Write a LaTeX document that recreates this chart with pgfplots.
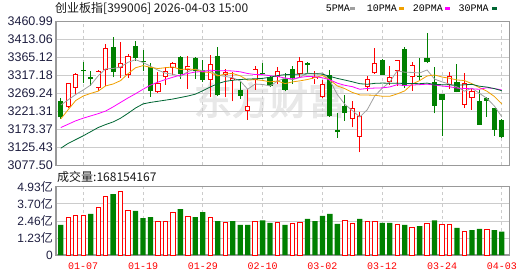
\documentclass[border=0pt]{standalone}
\usepackage{fontspec}
\setmainfont{Liberation Sans}
\newfontfamily\cjk{Noto Sans CJK SC}
\newfontfamily\wm[FakeBold=3]{Noto Sans CJK SC}
\newfontfamily\monof{Liberation Mono}
\usepackage{pgfplots}
\usepackage{pgfplotstable}
\pgfplotsset{compat=1.18}

\definecolor{labc}{RGB}{30,30,64}
\definecolor{cred}{RGB}{255,0,0}
\definecolor{cgreen}{RGB}{0,128,0}
\definecolor{maf}{RGB}{160,160,160}
\definecolor{mat}{RGB}{240,160,0}
\definecolor{matw}{RGB}{255,0,255}
\definecolor{math}{RGB}{0,102,51}
\definecolor{gridc}{RGB}{204,204,204}
\definecolor{framec}{RGB}{153,153,153}

% up candles (close > open): red hollow
\pgfplotstableread{
i o h l c
1 3232.0 3297.0 3230.0 3295.9
2 3283.4 3324.3 3267.5 3320.7
5 3283.4 3331.4 3274.6 3327.8
6 3331.4 3400.6 3289.7 3389.1
8 3335.8 3406.8 3310.1 3349.1
9 3319.0 3374.0 3310.1 3367.8
13 3271.9 3325.2 3270.1 3295.9
14 3313.6 3340.3 3292.3 3327.8
15 3336.7 3353.4 3318.0 3349.1
17 3331.4 3369.6 3280.8 3342.9
20 3304.7 3372.2 3258.6 3347.4
22 3319.0 3334.0 3258.6 3326.1
23 3304.7 3325.2 3247.9 3310.1
25 3223.1 3280.8 3198.2 3236.4
26 3304.7 3342.9 3278.1 3334.0
29 3313.6 3338.5 3294.1 3327.8
32 3320.7 3366.9 3311.8 3354.5
34 3307.4 3327.8 3294.1 3313.6
35 3258.6 3304.7 3256.8 3294.1
39 3200.0 3247.9 3178.7 3229.3
40 3153.8 3218.6 3112.1 3209.8
41 3287.0 3316.3 3274.6 3306.5
42 3322.5 3390.0 3320.7 3349.1
44 3298.5 3342.0 3292.3 3311.8
45 3327.8 3358.0 3289.0 3358.0
47 3311.8 3351.8 3276.3 3345.6
52 3292.3 3325.2 3280.8 3316.3
54 3239.0 3322.5 3230.2 3295.9
55 3256.8 3283.4 3224.8 3274.6
}\upc

% down candles (close < open): green filled
\pgfplotstableread{
i o h l c
0 3247.9 3256.8 3201.8 3205.3
3 3331.4 3351.8 3298.0 3327.8
4 3311.8 3329.6 3289.7 3306.5
7 3391.8 3420.2 3311.8 3325.2
10 3396.2 3409.5 3356.2 3362.5
11 3356.0 3385.0 3328.0 3352.0
12 3338.5 3349.1 3260.4 3276.3
16 3366.9 3369.5 3307.4 3320.7
18 3362.5 3365.1 3307.4 3327.8
19 3331.4 3358.0 3300.3 3304.7
21 3369.6 3393.5 3261.0 3264.8
24 3278.1 3298.5 3254.1 3263.0
27 3324.3 3349.1 3319.0 3320.7
28 3311.8 3316.0 3287.0 3289.7
30 3307.4 3322.5 3274.6 3278.1
31 3334.0 3342.9 3294.1 3310.1
33 3349.1 3353.6 3322.5 3345.6
36 3319.0 3331.4 3207.1 3209.8
37 3171.6 3216.0 3150.3 3165.4
38 3236.4 3265.7 3196.4 3216.9
43 3358.0 3360.7 3318.0 3319.0
46 3387.3 3393.5 3283.4 3289.7
48 3316.0 3362.5 3304.7 3312.0
49 3363.3 3430.8 3349.1 3351.8
50 3300.3 3338.5 3216.0 3236.4
51 3267.5 3267.5 3156.5 3252.4
53 3298.5 3347.4 3271.9 3273.7
56 3247.9 3278.1 3185.8 3185.8
57 3256.8 3258.6 3207.1 3249.7
58 3229.3 3229.3 3156.5 3171.6
59 3198.2 3201.0 3150.3 3152.0
}\dnc

\pgfplotstableread{
i ma5 ma10 ma20 ma30
0 3238.0 3201.0 3178.0 3123.0
1 3252.0 3226.0 3187.0 3136.0
2 3266.0 3250.0 3196.0 3146.0
3 3278.0 3262.0 3203.0 3156.0
4 3291.2 3269.0 3209.0 3167.0
5 3315.7 3275.0 3215.0 3178.0
6 3334.4 3289.0 3222.0 3186.0
7 3335.3 3294.0 3233.0 3193.0
8 3339.5 3303.0 3245.0 3203.0
9 3351.8 3321.5 3257.0 3216.0
10 3358.7 3337.2 3268.0 3230.0
11 3351.3 3342.9 3280.0 3241.0
12 3341.5 3338.4 3291.0 3245.0
13 3330.9 3335.2 3299.0 3248.0
14 3322.9 3337.4 3306.0 3251.0
15 3320.2 3339.5 3312.0 3254.0
16 3314.0 3332.6 3318.0 3258.0
17 3327.3 3334.4 3322.0 3262.0
18 3333.7 3332.3 3326.0 3267.0
19 3329.0 3326.0 3327.0 3276.0
20 3328.7 3324.5 3330.9 3286.0
21 3317.5 3315.7 3329.3 3295.0
22 3314.2 3320.7 3329.6 3301.0
23 3310.6 3322.1 3328.7 3304.0
24 3302.3 3315.7 3326.5 3306.0
25 3280.1 3304.4 3321.9 3307.0
26 3293.9 3305.7 3319.2 3308.0
27 3292.8 3303.5 3319.0 3309.0
28 3288.8 3299.7 3316.0 3312.0
29 3301.7 3302.0 3314.0 3316.5
30 3310.1 3295.1 3309.8 3318.9
31 3305.3 3299.6 3307.7 3319.4
32 3312.0 3302.4 3311.6 3320.5
33 3323.2 3306.0 3314.1 3321.1
34 3320.4 3311.1 3313.4 3321.4
35 3323.6 3316.8 3310.6 3320.2
36 3303.5 3304.4 3305.1 3314.3
37 3265.7 3288.9 3296.2 3308.9
38 3240.0 3281.6 3290.6 3304.5
39 3223.1 3271.7 3286.9 3299.9
40 3206.2 3264.9 3280.0 3294.8
41 3225.6 3264.6 3282.1 3293.3
42 3262.3 3264.0 3283.2 3295.7
43 3282.7 3261.4 3283.7 3296.5
44 3299.2 3261.2 3286.1 3296.0
45 3328.9 3267.6 3292.2 3296.3
46 3325.5 3275.6 3290.0 3295.2
47 3324.8 3293.6 3291.2 3295.3
48 3323.4 3303.1 3292.3 3294.8
49 3331.4 3315.3 3293.5 3296.4
50 3307.1 3318.0 3291.5 3292.7
51 3299.6 3312.6 3288.6 3292.2
52 3293.8 3309.3 3286.7 3291.9
53 3286.1 3304.8 3283.1 3290.7
54 3274.9 3303.2 3282.2 3291.8
55 3282.6 3294.8 3281.2 3293.1
56 3269.3 3284.5 3280.0 3288.1
57 3255.9 3274.9 3284.2 3285.8
58 3235.5 3260.8 3281.9 3281.8
59 3206.7 3240.8 3278.1 3276.0
}\mas

\pgfplotstableread{
i v
1 2.72
2 2.87
3 2.82
5 3.44
6 4.26
8 4.60
9 3.22
13 2.43
14 2.43
15 3.08
17 2.79
20 2.72
22 2.36
26 2.43
29 2.38
31 2.31
32 2.38
38 2.50
39 2.31
41 2.43
42 2.43
45 2.17
47 2.00
49 2.29
51 2.17
52 2.17
54 1.71
57 1.88
}\volup

\pgfplotstableread{
i v
0 2.17
4 2.96
7 4.40
10 3.18
11 2.67
12 2.74
16 3.32
18 2.74
19 3.10
21 2.45
23 2.45
24 2.17
25 2.17
27 2.50
28 2.31
30 2.17
33 2.60
34 2.45
35 2.82
36 2.96
37 2.24
40 2.60
43 2.31
44 2.31
46 2.17
48 2.09
50 2.50
53 1.95
55 1.80
56 1.88
58 1.80
59 1.68
}\voldn

\pgfplotsset{
  kbase/.style={
    scale only axis, width=453.3pt,
    xmin=-0.64, xmax=60,
    xtick={3,11,19,27,35,43,51,59},
    xmajorgrids, ymajorgrids,
    x grid style={draw=gridc, line width=0.8pt, dash pattern=on 3pt off 3pt},
    y grid style={draw=gridc, line width=0.8pt},
    major tick length=0pt,
    scaled y ticks=false,
    axis line style={draw=framec, line width=1.2pt},
    yticklabel style={font=\fontsize{12.5}{12.5}\selectfont, text=labc, anchor=east, inner sep=0pt, xshift=-3pt},
  },
  ebar/.style 2 args={draw=none, mark=none, forget plot,
    error bars/.cd, y dir=plus, y explicit, error mark=none,
    error bar style={draw=#1, line width=#2}},
}

\begin{document}
\begin{tikzpicture}
\path[use as bounding box] (0,0) rectangle (530pt,276pt);

% watermark
\node[text=black!9, inner sep=0pt] at (270pt,176pt) {\wm\fontsize{38}{38}\selectfont 东方财富};

% title and legend
\node[anchor=west, inner sep=0pt, text=black!90] at (55pt,267.7pt) {\cjk\fontsize{12}{12}\selectfont 创业板指[399006] 2026-04-03 15:00};
\node[anchor=west, inner sep=0pt] at (325.7pt,267.7pt) {\monof\fontsize{10}{10}\selectfont 5PMA};
\fill[maf] (350pt,266.2pt) rectangle (355pt,269.2pt);
\node[anchor=west, inner sep=0pt] at (366.7pt,267.7pt) {\monof\fontsize{10}{10}\selectfont 10PMA};
\fill[mat] (399.3pt,266.2pt) rectangle (404.3pt,269.2pt);
\node[anchor=west, inner sep=0pt] at (412.7pt,267.7pt) {\monof\fontsize{10}{10}\selectfont 20PMA};
\fill[matw] (445pt,266.2pt) rectangle (450pt,269.2pt);
\node[anchor=west, inner sep=0pt] at (458.3pt,267.7pt) {\monof\fontsize{10}{10}\selectfont 30PMA};
\fill[math] (492.3pt,266.2pt) rectangle (497.3pt,269.2pt);

% main price panel
\begin{axis}[kbase,
  at={(56pt,110.7pt)}, anchor=south west, height=144pt,
  ymin=3077.5, ymax=3460.99,
  xticklabels={},
  ytick={3077.50,3125.43,3173.37,3221.31,3269.24,3317.18,3365.12,3413.06,3460.99},
  yticklabels={3077.50,3125.43,3173.37,3221.31,3269.24,3317.18,3365.12,3413.06,3460.99},
]
% red (up) candles: wick, body outline, hollow inside
\addplot[ebar={cred}{1pt}] table[x=i, y=l, y error expr=\thisrow{h}-\thisrow{l}] {\upc};
\addplot[ebar={cred}{5.2pt}] table[x=i, y=o, y error expr=\thisrow{c}-\thisrow{o}] {\upc};
\addplot[draw=none, mark=none, forget plot,
    error bars/.cd, y dir=plus, y explicit, error mark=none,
    error bar style={draw=white, line width=3.4pt, shorten <=0.9pt, shorten >=0.9pt}]
  table[x=i, y=o, y error expr=\thisrow{c}-\thisrow{o}] {\upc};
% green (down) candles
\addplot[ebar={cgreen}{1pt}] table[x=i, y=l, y error expr=\thisrow{h}-\thisrow{l}] {\dnc};
\addplot[ebar={cgreen}{5.2pt}] table[x=i, y=c, y error expr=\thisrow{o}-\thisrow{c}] {\dnc};
% moving averages
\addplot[maf, line width=0.8pt, mark=none] table[x=i, y=ma5] {\mas};
\addplot[mat, line width=0.8pt, mark=none] table[x=i, y=ma10] {\mas};
\addplot[matw, line width=0.8pt, mark=none] table[x=i, y=ma20] {\mas};
\addplot[math, line width=0.8pt, mark=none] table[x=i, y=ma30] {\mas};
\end{axis}

\node[anchor=west, inner sep=0pt, text=black!90] at (57pt,98.7pt) {\cjk\fontsize{12}{12}\selectfont 成交量:168154167};

% volume panel
\begin{axis}[kbase,
  at={(56pt,21pt)}, anchor=south west, height=68.3pt,
  ymin=0, ymax=4.93,
  xticklabels={01-07,01-19,01-29,02-10,03-02,03-12,03-24,04-03},
  xticklabel style={font=\monof\fontsize{10}{10}\selectfont, text=cred, anchor=north, inner sep=0pt, yshift=-8pt},
  ytick={0,1.23,2.46,3.70,4.93},
  yticklabels={0,1.23{\cjk 亿},2.46{\cjk 亿},3.70{\cjk 亿},4.93{\cjk 亿}},
  yticklabel style={font=\fontsize{12}{12}\selectfont},
]
\addplot[ybar, bar shift=0pt, bar width=4.4pt, draw=cred, fill=white, line width=0.9pt] table[x=i, y=v] {\volup};
\addplot[ybar, bar shift=0pt, bar width=5.3pt, draw=none, fill=cgreen] table[x=i, y=v] {\voldn};
\end{axis}
\end{tikzpicture}
\end{document}
